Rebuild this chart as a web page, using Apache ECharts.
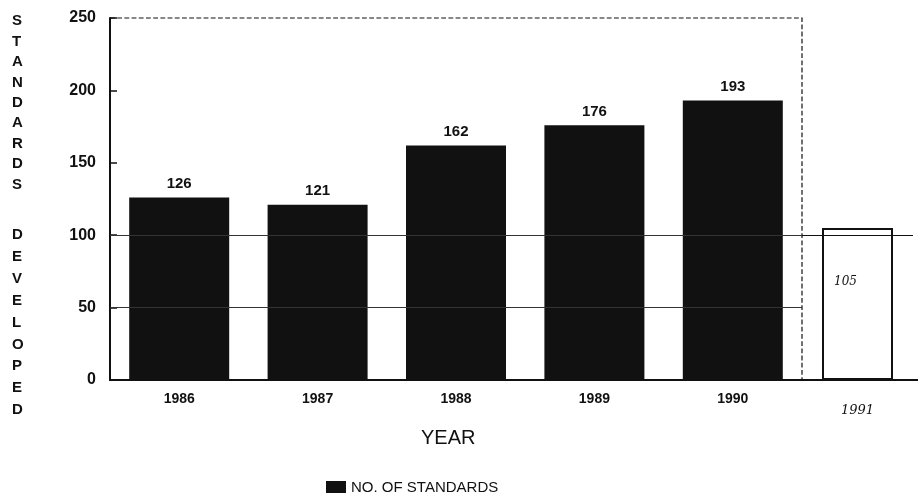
<!DOCTYPE html>
<html>
<head>
<meta charset="utf-8">
<script src="https://cdn.jsdelivr.net/npm/echarts@6/dist/echarts.min.js"></script>
<style>
  html, body { margin: 0; padding: 0; background: #fff; }
  #main { width: 918px; height: 503px; }
</style>
</head>
<body>
<div id="main"></div>
<script>
// data
var years = ['1986', '1987', '1988', '1989', '1990'];
var standards = [126, 121, 162, 176, 193];
// the 1991 bar is a hand-drawn addition next to the chart
var yearsExtra = ['1991'];
var standardsExtra = [105];
var yTicks = [0, 50, 100, 150, 200, 250];
var refLines = [50, 100];

var chart = echarts.init(document.getElementById('main'));
var ink = '#111';
var font = 'Liberation Sans';

option = {
    animation: false,
    backgroundColor: '#fff',
    graphic: [
        // stacked axis title, one letter per line
        { type: 'text', left: 12, top: 11, style: { text: 'STANDARDS'.split('').join('\n'), font: 'bold 15px Liberation Sans', lineHeight: 20.4, fill: ink, align: 'center' } },
        { type: 'text', left: 12, top: 224, style: { text: 'DEVELOPED'.split('').join('\n'), font: 'bold 15px Liberation Sans', lineHeight: 21.9, fill: ink, align: 'center' } },
        { type: 'text', left: 421, top: 428, style: { text: 'YEAR', font: '20px Liberation Sans', fill: ink } },
        { type: 'rect', left: 326, top: 481, shape: { width: 20, height: 12 }, style: { fill: ink } },
        { type: 'text', left: 351, top: 480, style: { text: 'NO. OF STANDARDS', font: '15px Liberation Sans', fill: ink } },
        // baseline carried on to the page edge
        { type: 'line', shape: { x1: 802, y1: 380, x2: 918, y2: 380 }, style: { stroke: ink, lineWidth: 2 } }
    ],
    grid: [
        { left: 110, top: 18, width: 692, height: 362, show: true, borderColor: ink, borderWidth: 1.2, borderType: 'dashed' },
        { left: 802, top: 18, width: 111, height: 362 }
    ],
    xAxis: [{
        type: 'category',
        gridIndex: 0,
        data: years,
        axisLine: { lineStyle: { color: ink, width: 2 } },
        axisTick: { show: false },
        axisLabel: { color: ink, fontFamily: font, fontWeight: 'bold', fontSize: 14, margin: 12 }
    }, {
        type: 'category',
        gridIndex: 1,
        data: yearsExtra,
        axisLine: { show: false },
        axisTick: { show: false },
        axisLabel: { color: ink, fontFamily: 'DejaVu Serif', fontStyle: 'italic', fontSize: 13, margin: 24, offset: [-3, 0] }
    }],
    yAxis: [{
        type: 'value',
        gridIndex: 0,
        min: yTicks[0],
        max: yTicks[yTicks.length - 1],
        interval: 50,
        axisLine: { show: true, lineStyle: { color: ink, width: 2 } },
        axisTick: { show: true, inside: true, length: 7, lineStyle: { color: ink, width: 1.5 } },
        axisLabel: { color: ink, fontFamily: font, fontWeight: 'bold', fontSize: 16, margin: 14 },
        splitLine: { show: false }
    }, {
        type: 'value',
        gridIndex: 1,
        min: 0,
        max: 250,
        interval: 50,
        show: false,
        splitLine: { show: false }
    }],
    series: [{
        name: 'NO. OF STANDARDS',
        type: 'bar',
        xAxisIndex: 0,
        yAxisIndex: 0,
        data: standards,
        barWidth: 100,
        itemStyle: { color: ink },
        label: { show: true, position: 'top', distance: 6, color: ink, fontFamily: font, fontWeight: 'bold', fontSize: 15 },
        markLine: {
            silent: true,
            symbol: 'none',
            label: { show: false },
            lineStyle: { color: '#333', width: 1, type: 'solid' },
            data: refLines.map(function(v) { return { yAxis: v }; })
        },
        z: 3
    }, {
        type: 'bar',
        xAxisIndex: 1,
        yAxisIndex: 1,
        data: standardsExtra,
        barWidth: 71,
        itemStyle: { color: '#fff', borderColor: ink, borderWidth: 2 },
        label: { show: true, position: 'insideTop', distance: 48, offset: [-12, 0], color: ink, fontFamily: 'DejaVu Serif', fontStyle: 'italic', fontSize: 12 },
        markLine: {
            silent: true,
            symbol: 'none',
            label: { show: false },
            lineStyle: { color: ink, width: 1.2, type: 'solid' },
            data: [{ yAxis: 100 }]
        }
    }]
};
chart.setOption(option);
</script>
</body>
</html>
